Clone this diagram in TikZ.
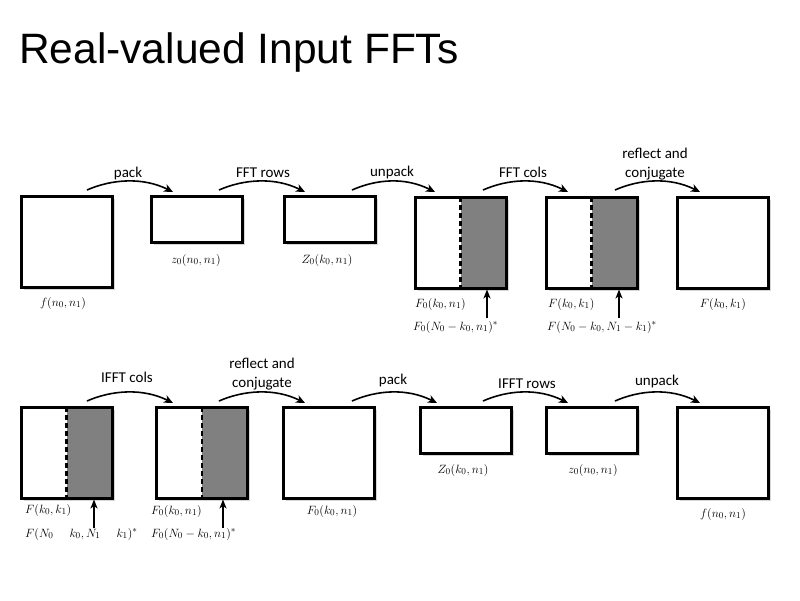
\documentclass[tikz,border=0pt]{standalone}
\usepackage{fontspec}
\setmainfont{Latin Modern Roman}
\newfontfamily\titlefont{Liberation Sans}
\newfontfamily\labfont{Carlito}
\usetikzlibrary{arrows.meta,shadows,calc}
\definecolor{halfgray}{RGB}{128,128,128}
\tikzset{
  box/.style={draw, line width=3pt, fill=white, inner sep=0pt,
    drop shadow={shadow xshift=2.5pt, shadow yshift=-2.5pt, fill=black!22, opacity=0.7}},
  sq/.style={box, minimum width=91pt, minimum height=91pt},
  rc/.style={box, minimum width=91pt, minimum height=46pt},
  half/.style={path picture={
      \fill[halfgray] (path picture bounding box.north) rectangle (path picture bounding box.south east);
      \draw[line width=2.5pt, dash pattern=on 5pt off 3pt] (path picture bounding box.north) -- (path picture bounding box.south);}},
  flow/.style={line width=1.6pt, -{Stealth[length=9pt,width=8pt,inset=2.5pt]}},
  up/.style={line width=1.6pt, -{Stealth[length=9pt,width=7pt,inset=2.5pt]}},
  op/.style={font=\labfont\fontsize{15}{19}\selectfont, inner sep=0pt, anchor=base, align=center},
  mth/.style={font=\fontsize{13}{15}\selectfont, inner sep=0pt, anchor=base},
  mthl/.style={mth, anchor=base west},
}
\newcommand{\flowarc}[2]{\draw[flow] (#1) .. controls ($(#1)+(25,-11)$) and ($(#2)+(-30,-15)$) .. (#2);}
\begin{document}
\begin{tikzpicture}[x=1pt,y=-1pt]
\useasboundingbox (0,0) rectangle (800,600);
\fill[white] (0,0) rectangle (800,600);
\node[font=\titlefont\fontsize{42.5}{50}\selectfont, inner sep=0pt, anchor=base west] (title) at (19,63) {Real-valued Input FFTs};

% ---- top row
\node[sq] (A1) at (66.5,242) {};
\node[rc] (A2) at (197,219.5) {};
\node[rc] (A3) at (329.5,219.5) {};
\node[sq,half] (A4) at (460.5,242.5) {};
\node[sq,half] (A5) at (591.5,242.5) {};
\node[sq] (A6) at (723,242.5) {};

\node[mth] (lA1) at (63,306) {$f(n_0,n_1)$};
\node[mth] (lA2) at (196,263) {$z_0(n_0,n_1)$};
\node[mth] (lA3) at (327,263) {$Z_0(k_0,n_1)$};
\node[mthl] (lA4) at (415,307) {$F_0(k_0,n_1)$};
\node[mthl] (mA4) at (413,330) {$F_0(N_0-k_0,n_1)^*$};
\node[mthl] (lA5) at (548,307) {$F(k_0,k_1)$};
\node[mthl] (mA5) at (547,330) {$F(N_0-k_0,N_1-k_1)^*$};
\node[mth] (lA6) at (723,307) {$F(k_0,k_1)$};

\coordinate (uA4) at (487,318);
\coordinate (uA5) at (619,318);
\draw[up] (uA4) -- (uA4 |- A4.south);
\draw[up] (uA5) -- (uA5 |- A5.south);

\coordinate (s1) at (87,190);  \coordinate (e1) at (173,192);
\coordinate (s2) at (219,190); \coordinate (e2) at (305,192);
\coordinate (s3) at (352,190); \coordinate (e3) at (435,192);
\coordinate (s4) at (483,190); \coordinate (e4) at (568,192);
\coordinate (s5) at (615,190); \coordinate (e5) at (700,192);
\flowarc{s1}{e1}
\flowarc{s2}{e2}
\flowarc{s3}{e3}
\flowarc{s4}{e4}
\flowarc{s5}{e5}
\node[op] (o1) at (128,177) {pack};
\node[op] (o2) at (263,177) {FFT rows};
\node[op] (o3) at (392,176) {unpack};
\node[op] (o4) at (523,177) {FFT cols};
\node[op] (o5) at (655,177) {reflect and\\conjugate};

% ---- bottom row
\node[sq,half] (B1) at (66.5,452.5) {};
\node[sq,half] (B2) at (202,452.5) {};
\node[sq] (B3) at (329,452.5) {};
\node[rc] (B4) at (465.5,430.5) {};
\node[rc] (B5) at (591.5,430.5) {};
\node[sq] (B6) at (723,452.5) {};

\node[mthl] (lB1) at (25,513) {$F(k_0,k_1)$};
\node[mthl] (mB1) at (25,537) {$F(N_0\mathrel{\phantom{-}}k_0,N_1\mathrel{\phantom{-}}k_1)^*$};
\node[mthl] (lB2) at (151,514) {$F_0(k_0,n_1)$};
\node[mthl] (mB2) at (151,537) {$F_0(N_0-k_0,n_1)^*$};
\node[mth] (lB3) at (332,514) {$F_0(k_0,n_1)$};
\node[mth] (lB4) at (463,473) {$Z_0(k_0,n_1)$};
\node[mth] (lB5) at (593,473) {$z_0(n_0,n_1)$};
\node[mth] (lB6) at (723,517) {$f(n_0,n_1)$};

\coordinate (uB1) at (94,528);
\coordinate (uB2) at (223,528);
\draw[up] (uB1) -- (uB1 |- B1.south);
\draw[up] (uB2) -- (uB2 |- B2.south);

\coordinate (t1) at (87,401);  \coordinate (f1) at (173,403);
\coordinate (t2) at (219,401); \coordinate (f2) at (305,403);
\coordinate (t3) at (352,401); \coordinate (f3) at (437,403);
\coordinate (t4) at (483,401); \coordinate (f4) at (568,403);
\coordinate (t5) at (615,401); \coordinate (f5) at (700,403);
\flowarc{t1}{f1}
\flowarc{t2}{f2}
\flowarc{t3}{f3}
\flowarc{t4}{f4}
\flowarc{t5}{f5}
\node[op] (p1) at (127,382) {IFFT cols};
\node[op] (p2) at (262,387) {reflect and\\conjugate};
\node[op] (p3) at (393,384) {pack};
\node[op] (p4) at (527,388) {IFFT rows};
\node[op] (p5) at (657,385) {unpack};
\end{tikzpicture}
\end{document}
